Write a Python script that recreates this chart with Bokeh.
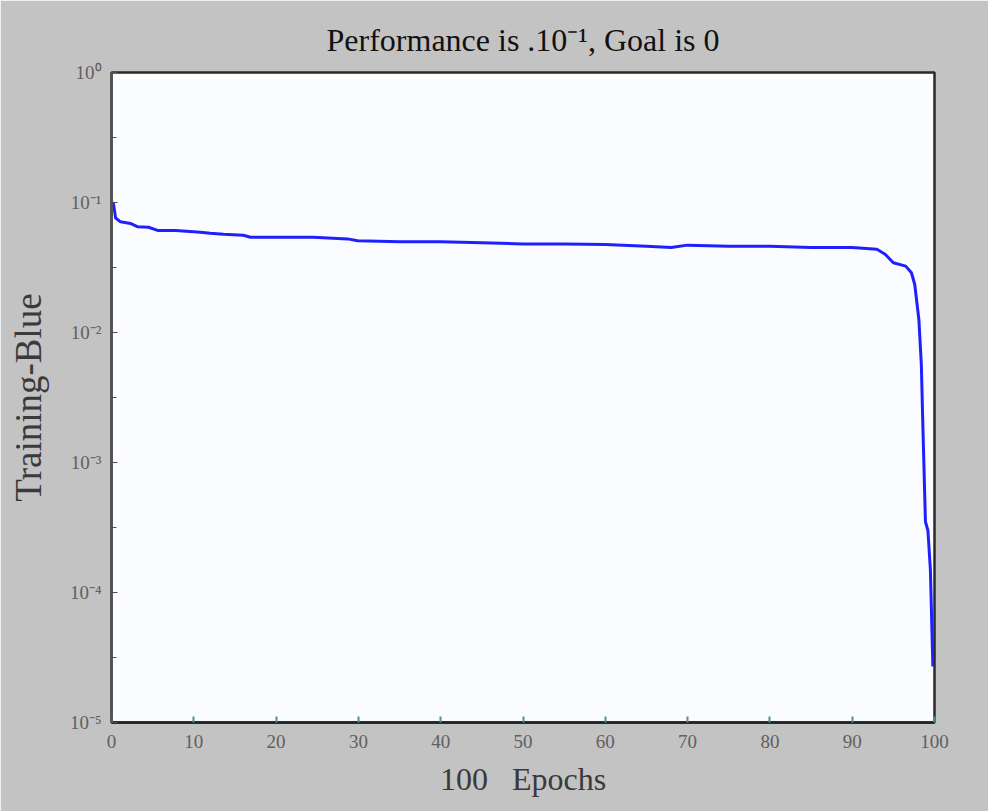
from bokeh.plotting import figure
from bokeh.models import FixedTicker, Range1d, Title
from bokeh.embed import file_html
from bokeh.resources import INLINE

# ---- data ----
epochs = [0, 0.24, 0.5, 1.1, 2.3, 3.2, 4.5, 5.6, 7.8, 10.8,
          12.0, 13.6, 16.0, 16.9, 24.5, 28.7, 29.9, 35.1, 40, 45,
          50, 55, 60, 65, 68, 70, 75, 80, 85, 90,
          93, 94, 95, 96.5, 97.2, 97.6, 98.1, 98.4, 98.6, 98.9,
          99.2, 99.5, 99.8]
performance = [0.1, 0.098, 0.076, 0.071, 0.069, 0.065, 0.0645, 0.061, 0.061, 0.059,
               0.058, 0.057, 0.056, 0.054, 0.054, 0.0525, 0.0508, 0.050, 0.050, 0.049,
               0.048, 0.048, 0.0475, 0.046, 0.045, 0.047, 0.046, 0.046, 0.045, 0.045,
               0.0437, 0.040, 0.0344, 0.0324, 0.0288, 0.0234, 0.0126, 0.0057, 0.00178, 0.00035,
               0.0003, 0.00015, 0.000027]

x_ticks = [0, 10, 20, 30, 40, 50, 60, 70, 80, 90, 100]
y_ticks = [1e-5, 1e-4, 1e-3, 1e-2, 1e-1, 1.0]
y_tick_labels = ["10\u207b\u2075", "10\u207b\u2074", "10\u207b\u00b3", "10\u207b\u00b2", "10\u207b\u00b9", "10\u2070"]
y_minor_ticks = [10 ** -4.5, 10 ** -3.5, 10 ** -2.5, 10 ** -1.5, 10 ** -0.5]

NB = "\u00a0"
title_text = "Performance is .10\u207b\u00b9, Goal is 0"
x_label = "100" + NB * 3 + "Epochs"
y_label = "Training-Blue"

SERIF = "Liberation Serif"

p = figure(width=988, height=811,
           x_range=Range1d(0, 100), y_range=Range1d(1e-5, 1.0),
           y_axis_type="log",
           output_backend="svg", toolbar_location=None,
           min_border_left=111, min_border_right=54,
           min_border_top=72, min_border_bottom=89)

p.background_fill_color = "#fbfcff"
p.border_fill_color = "#c3c3c3"
p.outline_line_color = "#2a2a2a"
p.outline_line_width = 2.5
p.grid.visible = False

p.title = Title(text=title_text, align="center", text_font=SERIF,
                text_font_style="normal", text_font_size="32px",
                text_color="#111111", standoff=30)

p.line(epochs, performance, line_color="#2020ff", line_width=3)

# x axis
xa = p.xaxis[0]
xa.ticker = FixedTicker(ticks=x_ticks)
xa.major_tick_in = 6
xa.major_tick_out = 0
xa.major_tick_line_color = "#4a8fa0"
xa.major_tick_line_width = 2
xa.minor_tick_line_color = None
xa.axis_line_color = "#222222"
xa.axis_line_width = 2.5
xa.major_label_text_font = SERIF
xa.major_label_text_font_size = "19px"
xa.major_label_text_color = "#606060"
xa.major_label_standoff = 12
xa.axis_label = x_label
xa.axis_label_text_font = SERIF
xa.axis_label_text_font_style = "normal"
xa.axis_label_text_font_size = "32px"
xa.axis_label_text_color = "#3a3a3a"
xa.axis_label_standoff = 10

# y axis
ya = p.yaxis[0]
ya.ticker = FixedTicker(ticks=y_ticks, minor_ticks=y_minor_ticks)
ya.major_label_overrides = {t: l for t, l in zip(y_ticks, y_tick_labels)}
ya.major_tick_in = 6
ya.major_tick_out = 0
ya.minor_tick_in = 5
ya.minor_tick_out = 0
ya.major_tick_line_color = "#505050"
ya.minor_tick_line_color = "#505050"
ya.axis_line_color = "#555555"
ya.axis_line_width = 2.5
ya.major_label_text_font = SERIF
ya.major_label_text_font_size = "19px"
ya.major_label_text_color = "#606060"
ya.major_label_standoff = 10
ya.axis_label = y_label
ya.axis_label_text_font = SERIF
ya.axis_label_text_font_style = "normal"
ya.axis_label_text_font_size = "37px"
ya.axis_label_text_color = "#3a3a3a"
ya.axis_label_standoff = 18

open("out.html", "w").write(file_html(p, INLINE))
